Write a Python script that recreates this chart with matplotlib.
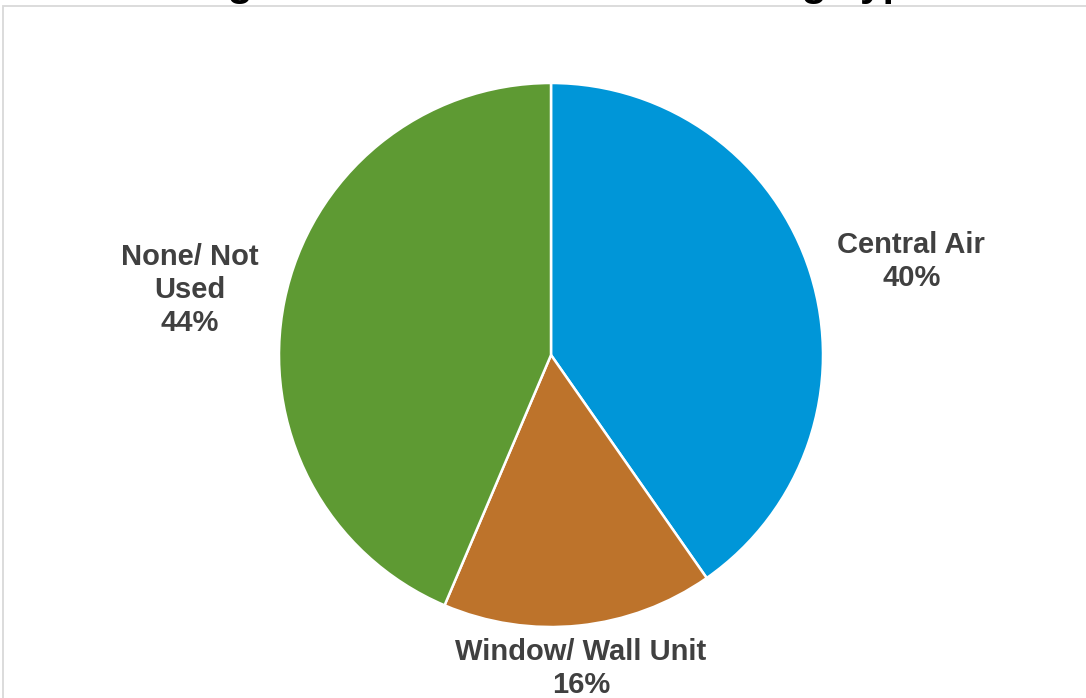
import matplotlib
matplotlib.use("Agg")
import matplotlib.pyplot as plt
from matplotlib.patches import Rectangle

plt.rcParams['font.family'] = ['Liberation Sans', 'DejaVu Sans']

categories = ['Central Air', 'Window/ Wall Unit', 'None/ Not\nUsed']
shares = [40.3, 16.1, 43.6]
colors = ['#0096D8', '#BD732B', '#5E9A33']
title = 'Average Household Air Conditioning Type'

# label anchor points in data units (pie radius = 1)
label_xy = [(1.325, 0.345), (0.11, -1.152), (-1.327, 0.24)]

W, H = 1086, 698
fig = plt.figure(figsize=(W / 100, H / 100), dpi=100)
fig.patch.set_facecolor('white')

# chart area outline, runs off the right and bottom edges
fig.patches.append(Rectangle((3 / W, -0.05), 1.1, 1 - 5.5 / H + 0.05,
                             transform=fig.transFigure, fill=False,
                             edgecolor='#D9D9D9', linewidth=1.3))

cx, cy, r = 551, 355, 272
ax = fig.add_axes([(cx - r) / W, (H - cy - r) / H, 2 * r / W, 2 * r / H])
wedges, _ = ax.pie(shares, colors=colors, startangle=90, counterclock=False,
                   radius=1, wedgeprops=dict(edgecolor='white', linewidth=1.8))
ax.set_xlim(-1, 1)
ax.set_ylim(-1, 1)
ax.set_aspect('equal')
ax.axis('off')

for name, val, (x, y) in zip(categories, shares, label_xy):
    ax.text(x, y, f'{name}\n{val:.0f}%', ha='center', va='center',
            fontsize=21, fontweight='bold', color='#404040',
            linespacing=1.22, clip_on=False)

# title sits mostly above the top edge
fig.text(0.4816, 1 + 4 / H, title, ha='center', va='baseline',
         fontsize=29.3, fontweight='bold', color='black')

fig.savefig('out.png', dpi=100)
